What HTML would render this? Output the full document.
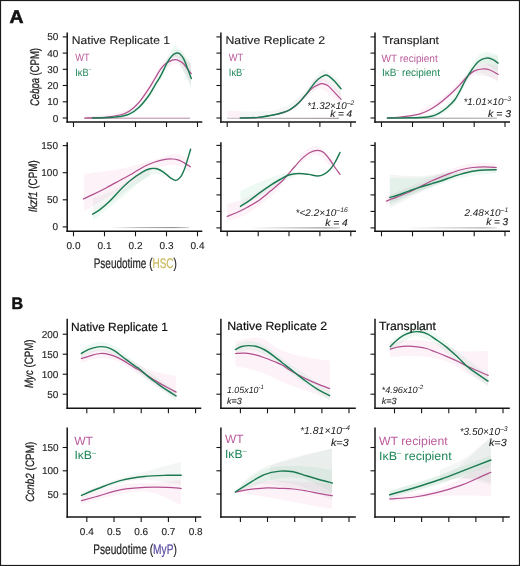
<!DOCTYPE html>
<html><head><meta charset="utf-8"><style>
html,body{margin:0;padding:0;background:#fff;width:520px;height:566px;overflow:hidden;}
body{position:relative;font-family:"Liberation Sans", sans-serif;}
</style></head><body>
<svg width="520" height="566" viewBox="0 0 520 566" style="position:absolute;left:0;top:0;font-family:'Liberation Sans', sans-serif;text-rendering:geometricPrecision;will-change:transform">
<rect x="0" y="0" width="520" height="566" fill="#ffffff"/>
<text x="9.60" y="22.80" text-anchor="start" fill="#111" style="font-size:18.6px;font-weight:bold;" textLength="14.00" lengthAdjust="spacingAndGlyphs" stroke="#111" stroke-width="0.6">A</text>
<text x="11.60" y="308.90" text-anchor="start" fill="#111" style="font-size:16.6px;font-weight:bold;" textLength="11.60" lengthAdjust="spacingAndGlyphs" stroke="#111" stroke-width="0.5">B</text>
<path d="M85.00,117.00 C92.33,115.67 118.42,114.17 129.00,109.00 C139.58,103.83 143.20,93.33 148.50,86.00 C153.80,78.67 156.88,70.17 160.80,65.00 C164.72,59.83 168.80,56.50 172.00,55.00 C175.20,53.50 176.83,54.50 180.00,56.00 C183.17,57.50 189.17,62.67 191.00,64.00 L191.00,84.00 C189.17,81.00 183.17,69.17 180.00,66.00 C176.83,62.83 175.20,64.00 172.00,65.00 C168.80,66.00 164.72,67.50 160.80,72.00 C156.88,76.50 153.80,85.17 148.50,92.00 C143.20,98.83 139.58,108.50 129.00,113.00 C118.42,117.50 92.33,118.00 85.00,119.00 Z" fill="rgba(236,160,205,0.14)" stroke="none"/>
<path d="M92.00,117.00 C98.17,116.17 119.58,116.00 129.00,112.00 C138.42,108.00 143.20,99.83 148.50,93.00 C153.80,86.17 156.88,78.33 160.80,71.00 C164.72,63.67 169.30,53.00 172.00,49.00 C174.70,45.00 173.83,44.50 177.00,47.00 C180.17,49.50 188.67,61.17 191.00,64.00 L191.00,88.00 C188.67,83.17 180.17,63.67 177.00,59.00 C173.83,54.33 174.70,56.50 172.00,60.00 C169.30,63.50 164.72,73.50 160.80,80.00 C156.88,86.50 153.80,93.00 148.50,99.00 C143.20,105.00 138.42,112.67 129.00,116.00 C119.58,119.33 98.17,118.50 92.00,119.00 Z" fill="rgba(150,220,180,0.16)" stroke="none"/>
<path d="M172.00,52.00 C173.33,51.67 176.83,48.00 180.00,50.00 C183.17,52.00 189.17,61.67 191.00,64.00 L191.00,86.00 C189.17,81.67 183.17,64.67 180.00,60.00 C176.83,55.33 173.33,58.33 172.00,58.00 Z" fill="rgba(150,165,155,0.10)" stroke="none"/>
<defs><linearGradient id="g1" x1="0" y1="0" x2="1" y2="0"><stop offset="0" stop-color="#b07aa0" stop-opacity="0.9"/><stop offset="1" stop-color="#b07aa0" stop-opacity="0.9"/></linearGradient></defs>
<rect x="84.00" y="117.70" width="106.00" height="1.00" fill="url(#g1)"/>
<path d="M85.00,118.00 C88.33,117.88 99.17,117.80 105.00,117.30 C110.83,116.80 115.97,116.00 120.00,115.00 C124.03,114.00 126.07,113.35 129.20,111.30 C132.33,109.25 135.58,106.38 138.80,102.70 C142.02,99.02 145.80,93.23 148.50,89.20 C151.20,85.17 152.95,81.90 155.00,78.50 C157.05,75.10 158.88,71.37 160.80,68.80 C162.72,66.23 164.58,64.53 166.50,63.10 C168.42,61.67 170.77,60.77 172.30,60.20 C173.83,59.63 174.42,59.53 175.70,59.70 C176.98,59.87 178.65,60.48 180.00,61.20 C181.35,61.92 182.52,62.65 183.80,64.00 C185.08,65.35 186.45,67.68 187.70,69.30 C188.95,70.92 190.70,72.97 191.30,73.70" fill="none" stroke="#b2508f" stroke-width="1.25" stroke-linecap="round" stroke-linejoin="round"/>
<path d="M92.50,118.00 C95.42,117.92 105.42,117.75 110.00,117.50 C114.58,117.25 116.80,117.05 120.00,116.50 C123.20,115.95 126.07,115.70 129.20,114.20 C132.33,112.70 135.58,110.53 138.80,107.50 C142.02,104.47 145.80,99.72 148.50,96.00 C151.20,92.28 152.95,88.60 155.00,85.20 C157.05,81.80 158.72,79.45 160.80,75.60 C162.88,71.75 165.58,65.47 167.50,62.10 C169.42,58.73 170.78,56.92 172.30,55.40 C173.82,53.88 175.32,53.23 176.60,53.00 C177.88,52.77 178.80,52.97 180.00,54.00 C181.20,55.03 182.52,56.73 183.80,59.20 C185.08,61.67 186.45,65.58 187.70,68.80 C188.95,72.02 190.70,76.88 191.30,78.50" fill="none" stroke="#1c7a52" stroke-width="1.45" stroke-linecap="round" stroke-linejoin="round"/>
<polygon points="227.3,110.9 240.3,110.9 240.3,118.1 227.3,118.1" fill="rgba(236,160,205,0.14)"/>
<path d="M240.30,111.60 C243.25,111.58 252.05,111.77 258.00,111.50 C263.95,111.23 270.67,111.25 276.00,110.00 C281.33,108.75 285.03,107.33 290.00,104.00 C294.97,100.67 301.07,95.00 305.80,90.00 C310.53,85.00 315.23,77.33 318.40,74.00 C321.57,70.67 321.03,68.67 324.80,70.00 C328.57,71.33 338.30,80.00 341.00,82.00 L341.00,96.00 C338.30,93.50 328.57,82.67 324.80,81.00 C321.03,79.33 321.57,83.17 318.40,86.00 C315.23,88.83 310.53,93.67 305.80,98.00 C301.07,102.33 294.97,109.00 290.00,112.00 C285.03,115.00 281.33,115.00 276.00,116.00 C270.67,117.00 263.95,117.58 258.00,118.00 C252.05,118.42 243.25,118.42 240.30,118.50 Z" fill="rgba(150,165,155,0.10)" stroke="none"/>
<path d="M312.00,82.00 C313.67,81.33 317.17,76.17 322.00,78.00 C326.83,79.83 337.83,90.50 341.00,93.00 L341.00,104.00 C337.83,101.50 326.83,91.00 322.00,89.00 C317.17,87.00 313.67,91.50 312.00,92.00 Z" fill="rgba(236,160,205,0.14)" stroke="none"/>
<defs><linearGradient id="g2" x1="0" y1="0" x2="1" y2="0"><stop offset="0" stop-color="#8a7a84" stop-opacity="0.5"/><stop offset="0.5" stop-color="#8a7a84" stop-opacity="0.8"/><stop offset="1" stop-color="#8a7a84" stop-opacity="0.9"/></linearGradient></defs>
<rect x="227.00" y="117.80" width="112.00" height="1.00" fill="url(#g2)"/>
<path d="M240.30,118.00 C243.30,117.90 252.42,117.98 258.30,117.40 C264.18,116.82 271.15,115.42 275.60,114.50 C280.05,113.58 282.28,112.92 285.00,111.90 C287.72,110.88 289.60,109.93 291.90,108.40 C294.20,106.87 296.48,104.93 298.80,102.70 C301.12,100.47 303.48,97.50 305.80,95.00 C308.12,92.50 310.40,89.50 312.70,87.70 C315.00,85.90 317.97,84.88 319.60,84.20 C321.23,83.52 321.15,83.40 322.50,83.60 C323.85,83.80 325.88,84.15 327.70,85.40 C329.52,86.65 331.18,88.80 333.40,91.10 C335.62,93.40 339.73,97.85 341.00,99.20" fill="none" stroke="#b2508f" stroke-width="1.25" stroke-linecap="round" stroke-linejoin="round"/>
<path d="M240.30,118.00 C243.30,117.90 252.42,117.98 258.30,117.40 C264.18,116.82 271.15,115.42 275.60,114.50 C280.05,113.58 282.28,112.92 285.00,111.90 C287.72,110.88 289.60,109.93 291.90,108.40 C294.20,106.87 296.48,105.00 298.80,102.70 C301.12,100.40 303.48,97.48 305.80,94.60 C308.12,91.72 310.60,88.00 312.70,85.40 C314.80,82.80 316.38,80.70 318.40,79.00 C320.42,77.30 323.07,75.68 324.80,75.20 C326.53,74.72 327.17,75.08 328.80,76.10 C330.43,77.12 332.57,79.18 334.60,81.30 C336.63,83.42 339.93,87.55 341.00,88.80" fill="none" stroke="#1c7a52" stroke-width="1.45" stroke-linecap="round" stroke-linejoin="round"/>
<path d="M387.00,117.00 C392.50,116.83 411.33,117.17 420.00,116.00 C428.67,114.83 433.33,113.33 439.00,110.00 C444.67,106.67 449.50,102.00 454.00,96.00 C458.50,90.00 462.00,80.67 466.00,74.00 C470.00,67.33 474.67,59.67 478.00,56.00 C481.33,52.33 482.67,52.17 486.00,52.00 C489.33,51.83 496.00,54.50 498.00,55.00 L498.00,72.00 C496.00,70.67 489.33,65.00 486.00,64.00 C482.67,63.00 481.33,62.83 478.00,66.00 C474.67,69.17 470.00,76.67 466.00,83.00 C462.00,89.33 458.50,98.50 454.00,104.00 C449.50,109.50 444.67,113.50 439.00,116.00 C433.33,118.50 428.67,118.50 420.00,119.00 C411.33,119.50 392.50,119.00 387.00,119.00 Z" fill="rgba(150,220,180,0.16)" stroke="none"/>
<path d="M420.00,110.00 C423.83,107.83 436.33,101.83 443.00,97.00 C449.67,92.17 454.50,86.00 460.00,81.00 C465.50,76.00 471.67,69.83 476.00,67.00 C480.33,64.17 482.33,64.17 486.00,64.00 C489.67,63.83 496.00,65.67 498.00,66.00 L498.00,82.00 C496.00,80.83 489.67,76.33 486.00,75.00 C482.33,73.67 480.33,71.83 476.00,74.00 C471.67,76.17 465.50,83.17 460.00,88.00 C454.50,92.83 449.67,98.33 443.00,103.00 C436.33,107.67 423.83,113.83 420.00,116.00 Z" fill="rgba(236,160,205,0.14)" stroke="none"/>
<path d="M476.00,62.00 C477.67,61.00 482.33,57.00 486.00,56.00 C489.67,55.00 496.00,56.00 498.00,56.00 L498.00,80.00 C496.00,79.33 489.67,76.67 486.00,76.00 C482.33,75.33 477.67,76.00 476.00,76.00 Z" fill="rgba(150,165,155,0.10)" stroke="none"/>
<defs><linearGradient id="g3" x1="0" y1="0" x2="1" y2="0"><stop offset="0" stop-color="#808080" stop-opacity="0.6"/><stop offset="0.6" stop-color="#808080" stop-opacity="0.8"/><stop offset="1" stop-color="#808080" stop-opacity="0.7"/></linearGradient></defs>
<rect x="388.00" y="117.70" width="109.00" height="1.00" fill="url(#g3)"/>
<path d="M387.40,118.00 C389.50,117.83 396.23,117.37 400.00,117.00 C403.77,116.63 406.67,116.33 410.00,115.80 C413.33,115.27 417.05,114.63 420.00,113.80 C422.95,112.97 425.13,112.07 427.70,110.80 C430.27,109.53 432.83,107.93 435.40,106.20 C437.97,104.47 440.53,102.47 443.10,100.40 C445.67,98.33 447.98,96.43 450.80,93.80 C453.62,91.17 457.01,87.73 460.00,84.60 C462.99,81.47 466.25,77.33 468.75,75.00 C471.25,72.67 472.71,71.60 475.00,70.60 C477.29,69.60 480.00,69.10 482.50,69.00 C485.00,68.90 487.40,69.10 490.00,70.00 C492.60,70.90 496.75,73.67 498.10,74.40" fill="none" stroke="#b2508f" stroke-width="1.25" stroke-linecap="round" stroke-linejoin="round"/>
<path d="M387.40,118.00 C391.17,117.97 404.57,117.88 410.00,117.80 C415.43,117.72 416.42,117.77 420.00,117.50 C423.58,117.23 428.30,116.93 431.50,116.20 C434.70,115.47 436.63,114.52 439.20,113.10 C441.77,111.68 444.33,109.88 446.90,107.70 C449.47,105.52 452.42,102.82 454.60,100.00 C456.78,97.18 458.06,94.34 460.00,90.80 C461.94,87.26 464.17,82.42 466.25,78.75 C468.33,75.08 470.42,71.67 472.50,68.75 C474.58,65.83 476.46,63.02 478.75,61.25 C481.04,59.48 483.96,58.41 486.25,58.10 C488.54,57.79 490.52,58.57 492.50,59.40 C494.48,60.23 497.17,62.48 498.10,63.10" fill="none" stroke="#1c7a52" stroke-width="1.45" stroke-linecap="round" stroke-linejoin="round"/>
<path d="M84.00,174.00 C90.00,173.17 109.00,171.17 120.00,169.00 C131.00,166.83 140.83,163.50 150.00,161.00 C159.17,158.50 168.33,154.17 175.00,154.00 C181.67,153.83 187.50,159.00 190.00,160.00 L190.00,172.00 C187.50,170.83 181.67,165.33 175.00,165.00 C168.33,164.67 157.50,167.00 150.00,170.00 C142.50,173.00 136.67,178.67 130.00,183.00 C123.33,187.33 116.17,192.17 110.00,196.00 C103.83,199.83 97.33,203.50 93.00,206.00 C88.67,208.50 85.50,210.17 84.00,211.00 Z" fill="rgba(236,160,205,0.14)" stroke="none"/>
<path d="M93.00,198.00 C95.83,197.00 103.83,195.00 110.00,192.00 C116.17,189.00 123.33,183.67 130.00,180.00 C136.67,176.33 146.67,171.67 150.00,170.00 L150.00,176.00 C146.67,178.00 136.67,183.50 130.00,188.00 C123.33,192.50 116.17,199.33 110.00,203.00 C103.83,206.67 95.83,208.83 93.00,210.00 Z" fill="rgba(150,165,155,0.10)" stroke="none"/>
<path d="M93.00,211.00 C97.50,207.83 110.50,199.17 120.00,192.00 C129.50,184.83 142.50,171.67 150.00,168.00 C157.50,164.33 162.50,169.67 165.00,170.00 L165.00,177.00 C162.50,176.67 157.50,171.33 150.00,175.00 C142.50,178.67 129.50,191.50 120.00,199.00 C110.50,206.50 97.50,216.50 93.00,220.00 Z" fill="rgba(150,220,180,0.16)" stroke="none"/>
<defs><linearGradient id="g4" x1="0" y1="0" x2="1" y2="0"><stop offset="0" stop-color="#606060" stop-opacity="0.0"/><stop offset="0.4" stop-color="#606060" stop-opacity="0.5"/><stop offset="0.8" stop-color="#606060" stop-opacity="0.75"/><stop offset="1" stop-color="#606060" stop-opacity="0.3"/></linearGradient></defs>
<rect x="110.00" y="227.10" width="79.00" height="1.00" fill="url(#g4)"/>
<path d="M83.30,199.00 C84.95,198.23 89.33,196.28 93.20,194.40 C97.07,192.52 102.08,190.02 106.50,187.70 C110.92,185.38 115.28,182.92 119.70,180.50 C124.12,178.08 128.92,175.53 133.00,173.20 C137.08,170.87 140.78,168.28 144.20,166.50 C147.62,164.72 150.42,163.62 153.50,162.50 C156.58,161.38 159.63,160.38 162.70,159.80 C165.77,159.22 169.22,158.93 171.90,159.00 C174.58,159.07 176.68,159.52 178.80,160.20 C180.92,160.88 182.67,162.00 184.60,163.10 C186.53,164.20 189.43,166.18 190.40,166.80" fill="none" stroke="#b2508f" stroke-width="1.25" stroke-linecap="round" stroke-linejoin="round"/>
<path d="M92.60,214.20 C93.82,213.43 97.15,211.68 99.90,209.60 C102.65,207.52 105.80,204.90 109.10,201.70 C112.40,198.50 116.17,193.93 119.70,190.40 C123.23,186.87 126.60,183.52 130.30,180.50 C134.00,177.48 138.62,174.25 141.90,172.30 C145.18,170.35 147.50,169.38 150.00,168.80 C152.50,168.22 154.60,168.22 156.90,168.80 C159.20,169.38 161.48,170.75 163.80,172.30 C166.12,173.85 168.77,176.75 170.80,178.10 C172.83,179.45 174.37,180.60 176.00,180.40 C177.63,180.20 179.17,178.83 180.60,176.90 C182.03,174.97 183.45,171.68 184.60,168.80 C185.75,165.92 186.50,162.87 187.50,159.60 C188.50,156.33 190.08,150.93 190.60,149.20" fill="none" stroke="#1c7a52" stroke-width="1.45" stroke-linecap="round" stroke-linejoin="round"/>
<path d="M227.20,203.80 C230.50,202.83 239.87,201.30 247.00,198.00 C254.13,194.70 264.17,187.50 270.00,184.00 C275.83,180.50 280.00,178.17 282.00,177.00 L282.00,185.00 C280.00,187.00 275.83,192.17 270.00,197.00 C264.17,201.83 254.13,210.00 247.00,214.00 C239.87,218.00 230.50,219.83 227.20,221.00 Z" fill="rgba(236,160,205,0.14)" stroke="none"/>
<path d="M240.50,191.00 C243.75,189.50 253.08,184.83 260.00,182.00 C266.92,179.17 276.17,175.83 282.00,174.00 C287.83,172.17 292.83,171.50 295.00,171.00 L295.00,177.00 C292.83,177.83 287.83,178.83 282.00,182.00 C276.17,185.17 266.92,191.67 260.00,196.00 C253.08,200.33 243.75,206.00 240.50,208.00 Z" fill="rgba(150,220,180,0.16)" stroke="none"/>
<path d="M300.00,154.00 C302.92,152.67 311.67,144.67 317.50,146.00 C323.33,147.33 332.08,159.33 335.00,162.00 L335.00,172.00 C332.08,169.17 323.33,156.33 317.50,155.00 C311.67,153.67 302.92,162.50 300.00,164.00 Z" fill="rgba(236,160,205,0.14)" stroke="none"/>
<defs><linearGradient id="g5" x1="0" y1="0" x2="1" y2="0"><stop offset="0" stop-color="#606060" stop-opacity="0.0"/><stop offset="0.5" stop-color="#606060" stop-opacity="0.5"/><stop offset="0.85" stop-color="#606060" stop-opacity="0.8"/><stop offset="1" stop-color="#606060" stop-opacity="0.4"/></linearGradient></defs>
<rect x="250.00" y="227.40" width="90.00" height="1.00" fill="url(#g5)"/>
<path d="M227.20,216.50 C228.83,215.83 233.63,214.03 237.00,212.50 C240.37,210.97 243.75,209.32 247.40,207.30 C251.05,205.28 255.07,203.10 258.90,200.40 C262.73,197.70 266.55,194.28 270.40,191.10 C274.25,187.92 279.15,183.98 282.00,181.30 C284.85,178.62 285.33,177.51 287.50,175.00 C289.67,172.49 292.50,169.07 295.00,166.25 C297.50,163.43 300.00,160.39 302.50,158.10 C305.00,155.81 307.50,153.81 310.00,152.50 C312.50,151.19 315.21,150.25 317.50,150.25 C319.79,150.25 321.67,150.88 323.75,152.50 C325.83,154.12 328.12,157.50 330.00,160.00 C331.88,162.50 333.33,165.10 335.00,167.50 C336.67,169.90 339.17,173.25 340.00,174.40" fill="none" stroke="#b2508f" stroke-width="1.25" stroke-linecap="round" stroke-linejoin="round"/>
<path d="M240.50,206.40 C242.03,205.40 246.63,202.57 249.70,200.40 C252.77,198.23 255.45,195.90 258.90,193.40 C262.35,190.90 266.88,187.72 270.40,185.40 C273.92,183.08 276.94,181.23 280.00,179.50 C283.06,177.77 285.62,176.00 288.75,175.00 C291.88,174.00 295.42,173.60 298.75,173.50 C302.08,173.40 305.62,173.98 308.75,174.40 C311.88,174.82 315.00,176.00 317.50,176.00 C320.00,176.00 321.67,175.50 323.75,174.40 C325.83,173.30 328.12,171.38 330.00,169.40 C331.88,167.42 333.33,165.32 335.00,162.50 C336.67,159.68 339.17,154.17 340.00,152.50" fill="none" stroke="#1c7a52" stroke-width="1.45" stroke-linecap="round" stroke-linejoin="round"/>
<path d="M389.80,174.40 C394.83,174.67 408.63,176.57 420.00,176.00 C431.37,175.43 451.67,171.83 458.00,171.00 L458.00,176.00 C451.67,178.83 431.37,187.60 420.00,193.00 C408.63,198.40 394.83,205.83 389.80,208.40 Z" fill="rgba(150,165,155,0.10)" stroke="none"/>
<path d="M389.80,178.00 C394.83,178.00 409.97,179.00 420.00,178.00 C430.03,177.00 445.00,173.00 450.00,172.00 L450.00,178.00 C445.00,180.17 430.03,186.33 420.00,191.00 C409.97,195.67 394.83,203.50 389.80,206.00 Z" fill="rgba(150,220,180,0.16)" stroke="none"/>
<path d="M386.00,197.00 C391.67,194.50 407.67,187.17 420.00,182.00 C432.33,176.83 449.17,169.17 460.00,166.00 C470.83,162.83 479.00,163.33 485.00,163.00 C491.00,162.67 494.17,163.83 496.00,164.00 L496.00,172.00 C494.17,171.83 491.00,170.67 485.00,171.00 C479.00,171.33 470.83,170.67 460.00,174.00 C449.17,177.33 432.33,185.83 420.00,191.00 C407.67,196.17 391.67,202.67 386.00,205.00 Z" fill="rgba(236,160,205,0.14)" stroke="none"/>
<path d="M390.00,195.00 C395.00,193.17 408.33,188.00 420.00,184.00 C431.67,180.00 447.33,174.00 460.00,171.00 C472.67,168.00 490.00,166.83 496.00,166.00 L496.00,173.00 C490.00,173.83 472.67,175.00 460.00,178.00 C447.33,181.00 431.67,186.83 420.00,191.00 C408.33,195.17 395.00,201.00 390.00,203.00 Z" fill="rgba(150,220,180,0.16)" stroke="none"/>
<defs><linearGradient id="g6" x1="0" y1="0" x2="1" y2="0"><stop offset="0" stop-color="#707070" stop-opacity="0.0"/><stop offset="0.5" stop-color="#707070" stop-opacity="0.4"/><stop offset="0.85" stop-color="#707070" stop-opacity="0.7"/><stop offset="1" stop-color="#707070" stop-opacity="0.3"/></linearGradient></defs>
<rect x="405.00" y="227.40" width="92.00" height="1.00" fill="url(#g6)"/>
<path d="M386.30,201.00 C388.13,200.32 393.55,198.35 397.30,196.90 C401.05,195.45 404.95,194.03 408.80,192.30 C412.65,190.57 416.55,188.42 420.40,186.50 C424.25,184.58 428.63,182.33 431.90,180.80 C435.17,179.27 437.40,178.37 440.00,177.30 C442.60,176.23 444.17,175.62 447.50,174.40 C450.83,173.18 455.83,171.15 460.00,170.00 C464.17,168.85 468.33,168.02 472.50,167.50 C476.67,166.98 481.04,166.90 485.00,166.90 C488.96,166.90 494.38,167.40 496.25,167.50" fill="none" stroke="#b2508f" stroke-width="1.25" stroke-linecap="round" stroke-linejoin="round"/>
<path d="M389.80,197.50 C391.05,197.12 394.13,196.27 397.30,195.20 C400.47,194.13 404.95,192.45 408.80,191.10 C412.65,189.75 416.55,188.35 420.40,187.10 C424.25,185.85 428.63,184.57 431.90,183.60 C435.17,182.63 437.40,182.15 440.00,181.30 C442.60,180.45 444.17,179.65 447.50,178.50 C450.83,177.35 455.83,175.61 460.00,174.40 C464.17,173.19 468.33,171.98 472.50,171.25 C476.67,170.52 481.04,170.25 485.00,170.00 C488.96,169.75 494.38,169.79 496.25,169.75" fill="none" stroke="#1c7a52" stroke-width="1.45" stroke-linecap="round" stroke-linejoin="round"/>
<path d="M81.00,349.00 C83.83,347.83 92.50,342.50 98.00,342.00 C103.50,341.50 107.83,342.67 114.00,346.00 C120.17,349.33 124.67,354.50 135.00,362.00 C145.33,369.50 169.17,386.17 176.00,391.00 L176.00,401.00 C169.17,395.83 145.33,377.67 135.00,370.00 C124.67,362.33 120.17,358.17 114.00,355.00 C107.83,351.83 103.50,350.50 98.00,351.00 C92.50,351.50 83.83,356.83 81.00,358.00 Z" fill="rgba(150,220,180,0.16)" stroke="none"/>
<path d="M81.00,354.00 C84.17,353.17 93.67,349.00 100.00,349.00 C106.33,349.00 110.67,350.50 119.00,354.00 C127.33,357.50 140.50,366.33 150.00,370.00 C159.50,373.67 171.67,375.00 176.00,376.00 L176.00,398.00 C171.67,395.33 159.50,388.00 150.00,382.00 C140.50,376.00 127.33,366.00 119.00,362.00 C110.67,358.00 106.33,357.83 100.00,358.00 C93.67,358.17 84.17,362.17 81.00,363.00 Z" fill="rgba(236,160,205,0.14)" stroke="none"/>
<path d="M81.30,358.60 C82.75,358.13 86.82,356.65 90.00,355.80 C93.18,354.95 97.13,353.70 100.40,353.50 C103.67,353.30 106.53,353.83 109.60,354.60 C112.67,355.37 115.92,356.75 118.80,358.10 C121.68,359.45 124.20,361.07 126.90,362.70 C129.60,364.33 132.95,366.68 135.00,367.90 C137.05,369.12 136.95,368.60 139.20,370.00 C141.45,371.40 145.42,374.28 148.50,376.30 C151.58,378.32 154.63,380.27 157.70,382.10 C160.77,383.93 163.83,385.63 166.90,387.30 C169.97,388.97 174.57,391.30 176.10,392.10" fill="none" stroke="#b2508f" stroke-width="1.25" stroke-linecap="round" stroke-linejoin="round"/>
<path d="M81.30,353.50 C82.55,352.82 86.00,350.50 88.80,349.40 C91.60,348.30 95.22,347.28 98.10,346.90 C100.98,346.52 103.42,346.48 106.10,347.10 C108.78,347.72 111.32,348.87 114.20,350.60 C117.08,352.33 119.93,354.92 123.40,357.50 C126.87,360.08 132.37,364.22 135.00,366.10 C137.63,367.98 136.95,367.00 139.20,368.80 C141.45,370.60 145.42,374.40 148.50,376.90 C151.58,379.40 154.63,381.58 157.70,383.80 C160.77,386.02 163.83,388.18 166.90,390.20 C169.97,392.22 174.57,394.95 176.10,395.90" fill="none" stroke="#1c7a52" stroke-width="1.45" stroke-linecap="round" stroke-linejoin="round"/>
<path d="M235.50,341.00 C239.58,340.50 252.58,336.57 260.00,338.00 C267.42,339.43 273.33,346.60 280.00,349.60 C286.67,352.60 291.67,354.10 300.00,356.00 C308.33,357.90 325.00,360.17 330.00,361.00 L330.00,399.00 C323.33,396.67 301.67,389.50 290.00,385.00 C278.33,380.50 269.08,375.17 260.00,372.00 C250.92,368.83 239.58,367.00 235.50,366.00 Z" fill="rgba(236,160,205,0.14)" stroke="none"/>
<path d="M235.50,345.00 C237.75,344.33 244.08,340.83 249.00,341.00 C253.92,341.17 258.17,342.17 265.00,346.00 C271.83,349.83 279.17,356.50 290.00,364.00 C300.83,371.50 323.33,386.50 330.00,391.00 L330.00,401.00 C323.33,396.33 300.83,380.67 290.00,373.00 C279.17,365.33 271.83,358.83 265.00,355.00 C258.17,351.17 253.92,350.17 249.00,350.00 C244.08,349.83 237.75,353.33 235.50,354.00 Z" fill="rgba(150,220,180,0.16)" stroke="none"/>
<path d="M235.50,353.50 C237.13,353.45 242.13,353.02 245.30,353.20 C248.47,353.38 251.42,353.88 254.50,354.60 C257.58,355.32 260.53,356.35 263.80,357.50 C267.07,358.65 271.03,360.25 274.10,361.50 C277.17,362.75 279.68,363.62 282.20,365.00 C284.72,366.38 286.48,368.13 289.20,369.80 C291.92,371.47 295.42,373.37 298.50,375.00 C301.58,376.63 304.63,378.17 307.70,379.60 C310.77,381.03 313.25,382.10 316.90,383.60 C320.55,385.10 327.48,387.77 329.60,388.60" fill="none" stroke="#b2508f" stroke-width="1.25" stroke-linecap="round" stroke-linejoin="round"/>
<path d="M235.50,349.40 C236.55,348.92 239.58,347.13 241.80,346.50 C244.02,345.87 246.30,345.60 248.80,345.60 C251.30,345.60 254.12,345.77 256.80,346.50 C259.48,347.23 262.02,348.37 264.90,350.00 C267.78,351.63 271.22,354.18 274.10,356.30 C276.98,358.42 279.68,360.73 282.20,362.70 C284.72,364.67 286.48,365.95 289.20,368.10 C291.92,370.25 295.42,373.20 298.50,375.60 C301.58,378.00 304.63,380.30 307.70,382.50 C310.77,384.70 313.25,386.60 316.90,388.80 C320.55,391.00 327.48,394.55 329.60,395.70" fill="none" stroke="#1c7a52" stroke-width="1.45" stroke-linecap="round" stroke-linejoin="round"/>
<path d="M390.00,342.00 C393.58,339.50 406.50,329.67 411.50,327.00 C416.50,324.33 415.92,324.83 420.00,326.00 C424.08,327.17 429.67,329.67 436.00,334.00 C442.33,338.33 449.33,345.17 458.00,352.00 C466.67,358.83 483.00,371.17 488.00,375.00 L488.00,387.00 C483.00,383.00 466.67,370.17 458.00,363.00 C449.33,355.83 442.33,348.33 436.00,344.00 C429.67,339.67 424.08,338.17 420.00,337.00 C415.92,335.83 416.50,334.67 411.50,337.00 C406.50,339.33 393.58,348.67 390.00,351.00 Z" fill="rgba(150,220,180,0.16)" stroke="none"/>
<path d="M390.00,342.00 C394.50,341.67 407.83,339.50 417.00,340.00 C426.17,340.50 437.83,343.17 445.00,345.00 C452.17,346.83 452.83,350.00 460.00,351.00 C467.17,352.00 483.33,351.00 488.00,351.00 L488.00,385.00 C485.00,383.33 477.17,379.00 470.00,375.00 C462.83,371.00 453.83,364.17 445.00,361.00 C436.17,357.83 426.17,356.67 417.00,356.00 C407.83,355.33 394.50,356.83 390.00,357.00 Z" fill="rgba(236,160,205,0.14)" stroke="none"/>
<path d="M390.20,349.10 C391.63,348.72 395.82,347.28 398.80,346.80 C401.78,346.32 405.02,346.20 408.10,346.20 C411.18,346.20 414.23,346.42 417.30,346.80 C420.37,347.18 423.43,347.63 426.50,348.50 C429.57,349.37 432.37,350.70 435.70,352.00 C439.03,353.30 442.77,354.72 446.50,356.30 C450.23,357.88 454.25,359.67 458.10,361.50 C461.95,363.33 464.60,364.98 469.60,367.30 C474.60,369.62 485.02,374.05 488.10,375.40" fill="none" stroke="#b2508f" stroke-width="1.25" stroke-linecap="round" stroke-linejoin="round"/>
<path d="M390.20,346.80 C391.25,345.75 394.28,342.42 396.50,340.50 C398.72,338.58 401.00,336.68 403.50,335.30 C406.00,333.92 408.82,332.78 411.50,332.20 C414.18,331.62 416.90,331.48 419.60,331.80 C422.30,332.12 425.02,332.85 427.70,334.10 C430.38,335.35 432.57,337.13 435.70,339.30 C438.83,341.47 442.77,344.07 446.50,347.10 C450.23,350.13 454.25,353.95 458.10,357.50 C461.95,361.05 464.60,364.47 469.60,368.40 C474.60,372.33 485.02,378.98 488.10,381.10" fill="none" stroke="#1c7a52" stroke-width="1.45" stroke-linecap="round" stroke-linejoin="round"/>
<path d="M81.50,492.00 C88.08,489.67 110.58,481.33 121.00,478.00 C131.42,474.67 136.67,474.00 144.00,472.00 C151.33,470.00 158.83,467.67 165.00,466.00 C171.17,464.33 178.33,462.67 181.00,462.00 L181.00,485.00 C178.33,484.50 171.17,482.83 165.00,482.00 C158.83,481.17 151.33,479.83 144.00,480.00 C136.67,480.17 131.42,480.00 121.00,483.00 C110.58,486.00 88.08,495.50 81.50,498.00 Z" fill="rgba(150,165,155,0.10)" stroke="none"/>
<path d="M81.50,497.00 C88.08,495.00 109.58,487.33 121.00,485.00 C132.42,482.67 140.00,483.83 150.00,483.00 C160.00,482.17 175.83,480.50 181.00,480.00 L181.00,505.00 C175.83,502.83 160.00,493.83 150.00,492.00 C140.00,490.17 132.42,492.00 121.00,494.00 C109.58,496.00 88.08,502.33 81.50,504.00 Z" fill="rgba(236,160,205,0.14)" stroke="none"/>
<path d="M81.50,500.70 C84.27,499.93 91.48,497.95 98.10,496.10 C104.72,494.25 113.50,491.07 121.20,489.60 C128.90,488.13 136.60,487.68 144.30,487.30 C152.00,486.92 161.25,487.10 167.40,487.30 C173.55,487.50 178.90,488.30 181.20,488.50" fill="none" stroke="#b2508f" stroke-width="1.25" stroke-linecap="round" stroke-linejoin="round"/>
<path d="M81.50,495.40 C84.27,494.25 91.48,491.00 98.10,488.50 C104.72,486.00 113.50,482.40 121.20,480.40 C128.90,478.40 136.60,477.35 144.30,476.50 C152.00,475.65 161.25,475.50 167.40,475.30 C173.55,475.10 178.90,475.30 181.20,475.30" fill="none" stroke="#1c7a52" stroke-width="1.45" stroke-linecap="round" stroke-linejoin="round"/>
<path d="M235.40,492.00 C237.83,489.33 244.23,480.50 250.00,476.00 C255.77,471.50 261.67,468.33 270.00,465.00 C278.33,461.67 289.67,458.73 300.00,456.00 C310.33,453.27 326.67,449.83 332.00,448.60 L332.00,494.00 C326.67,493.17 312.00,490.67 300.00,489.00 C288.00,487.33 270.77,483.50 260.00,484.00 C249.23,484.50 239.50,490.67 235.40,492.00 Z" fill="rgba(150,165,155,0.10)" stroke="none"/>
<path d="M235.40,492.00 C237.83,489.67 244.23,482.00 250.00,478.00 C255.77,474.00 261.67,470.00 270.00,468.00 C278.33,466.00 289.67,465.67 300.00,466.00 C310.33,466.33 326.67,469.33 332.00,470.00 L332.00,492.00 C326.67,489.67 310.33,480.00 300.00,478.00 C289.67,476.00 278.33,478.33 270.00,480.00 C261.67,481.67 255.77,486.00 250.00,488.00 C244.23,490.00 237.83,491.33 235.40,492.00 Z" fill="rgba(150,220,180,0.16)" stroke="none"/>
<path d="M235.40,492.00 C240.50,490.17 249.90,482.33 266.00,481.00 C282.10,479.67 321.00,483.50 332.00,484.00 L332.00,509.00 C321.00,507.00 282.10,499.83 266.00,497.00 C249.90,494.17 240.50,492.83 235.40,492.00 Z" fill="rgba(236,160,205,0.14)" stroke="none"/>
<path d="M270.00,466.00 C275.00,464.50 289.67,459.90 300.00,457.00 C310.33,454.10 326.67,450.00 332.00,448.60 L332.00,500.00 C326.67,497.67 310.33,489.33 300.00,486.00 C289.67,482.67 275.00,481.00 270.00,480.00 Z" fill="rgba(150,165,155,0.10)" stroke="none"/>
<path d="M235.40,492.00 C237.52,491.62 242.90,490.40 248.10,489.70 C253.30,489.00 261.28,488.03 266.60,487.80 C271.92,487.57 275.57,488.10 280.00,488.30 C284.43,488.50 288.78,488.55 293.20,489.00 C297.62,489.45 302.08,490.23 306.50,491.00 C310.92,491.77 315.40,492.83 319.70,493.60 C324.00,494.37 330.20,495.27 332.30,495.60" fill="none" stroke="#b2508f" stroke-width="1.25" stroke-linecap="round" stroke-linejoin="round"/>
<path d="M235.40,492.00 C237.52,490.65 243.28,486.80 248.10,483.90 C252.92,481.00 258.98,476.73 264.30,474.60 C269.62,472.47 275.18,471.57 280.00,471.10 C284.82,470.63 288.78,471.02 293.20,471.80 C297.62,472.58 302.08,474.48 306.50,475.80 C310.92,477.12 315.40,478.50 319.70,479.70 C324.00,480.90 330.20,482.45 332.30,483.00" fill="none" stroke="#1c7a52" stroke-width="1.45" stroke-linecap="round" stroke-linejoin="round"/>
<path d="M389.70,491.00 C397.70,488.50 425.85,480.33 437.70,476.00 C449.55,471.67 451.93,471.50 460.80,465.00 C469.67,458.50 485.88,441.67 490.90,437.00 L490.90,485.00 C485.88,483.83 469.67,478.00 460.80,478.00 C451.93,478.00 449.55,481.67 437.70,485.00 C425.85,488.33 397.70,495.83 389.70,498.00 Z" fill="rgba(150,165,155,0.10)" stroke="none"/>
<path d="M389.70,491.00 C397.70,488.50 425.85,480.00 437.70,476.00 C449.55,472.00 451.93,470.50 460.80,467.00 C469.67,463.50 485.88,457.00 490.90,455.00 L490.90,466.00 C485.88,467.67 469.67,473.00 460.80,476.00 C451.93,479.00 449.55,480.33 437.70,484.00 C425.85,487.67 397.70,495.67 389.70,498.00 Z" fill="rgba(150,220,180,0.16)" stroke="none"/>
<path d="M389.70,496.00 C397.70,494.83 420.83,494.67 437.70,489.00 C454.57,483.33 482.03,466.50 490.90,462.00 L490.90,496.00 C482.03,496.00 454.57,495.00 437.70,496.00 C420.83,497.00 397.70,501.00 389.70,502.00 Z" fill="rgba(236,160,205,0.14)" stroke="none"/>
<path d="M440.00,470.00 C444.17,468.00 456.52,463.50 465.00,458.00 C473.48,452.50 486.58,440.50 490.90,437.00 L490.90,482.00 C486.58,481.33 473.48,478.00 465.00,478.00 C456.52,478.00 444.17,481.33 440.00,482.00 Z" fill="rgba(150,165,155,0.10)" stroke="none"/>
<path d="M389.70,498.80 C393.85,498.50 406.60,498.07 414.60,497.00 C422.60,495.93 430.00,494.33 437.70,492.40 C445.40,490.47 454.25,487.72 460.80,485.40 C467.35,483.08 471.98,480.68 477.00,478.50 C482.02,476.32 488.58,473.33 490.90,472.30" fill="none" stroke="#b2508f" stroke-width="1.25" stroke-linecap="round" stroke-linejoin="round"/>
<path d="M389.70,494.70 C393.85,493.53 406.60,490.10 414.60,487.70 C422.60,485.30 430.00,482.98 437.70,480.30 C445.40,477.62 451.93,474.98 460.80,471.60 C469.67,468.22 485.88,461.93 490.90,460.00" fill="none" stroke="#1c7a52" stroke-width="1.45" stroke-linecap="round" stroke-linejoin="round"/>
<line x1="67.20" y1="32.50" x2="67.20" y2="122.75" stroke="#141414" stroke-width="1.5"/>
<line x1="66.45" y1="122.00" x2="202.30" y2="122.00" stroke="#141414" stroke-width="1.5"/>
<line x1="62.70" y1="36.90" x2="67.20" y2="36.90" stroke="#141414" stroke-width="1.1"/>
<line x1="62.70" y1="53.10" x2="67.20" y2="53.10" stroke="#141414" stroke-width="1.1"/>
<line x1="62.70" y1="69.30" x2="67.20" y2="69.30" stroke="#141414" stroke-width="1.1"/>
<line x1="62.70" y1="85.50" x2="67.20" y2="85.50" stroke="#141414" stroke-width="1.1"/>
<line x1="62.70" y1="101.80" x2="67.20" y2="101.80" stroke="#141414" stroke-width="1.1"/>
<line x1="62.70" y1="118.00" x2="67.20" y2="118.00" stroke="#141414" stroke-width="1.1"/>
<line x1="73.50" y1="122.00" x2="73.50" y2="127.00" stroke="#141414" stroke-width="1.1"/>
<line x1="104.50" y1="122.00" x2="104.50" y2="127.00" stroke="#141414" stroke-width="1.1"/>
<line x1="135.50" y1="122.00" x2="135.50" y2="127.00" stroke="#141414" stroke-width="1.1"/>
<line x1="166.50" y1="122.00" x2="166.50" y2="127.00" stroke="#141414" stroke-width="1.1"/>
<line x1="197.50" y1="122.00" x2="197.50" y2="127.00" stroke="#141414" stroke-width="1.1"/>
<line x1="67.20" y1="142.20" x2="67.20" y2="232.05" stroke="#141414" stroke-width="1.5"/>
<line x1="66.45" y1="231.30" x2="202.30" y2="231.30" stroke="#141414" stroke-width="1.5"/>
<line x1="62.70" y1="145.60" x2="67.20" y2="145.60" stroke="#141414" stroke-width="1.1"/>
<line x1="62.70" y1="172.70" x2="67.20" y2="172.70" stroke="#141414" stroke-width="1.1"/>
<line x1="62.70" y1="199.80" x2="67.20" y2="199.80" stroke="#141414" stroke-width="1.1"/>
<line x1="62.70" y1="226.90" x2="67.20" y2="226.90" stroke="#141414" stroke-width="1.1"/>
<line x1="73.50" y1="231.30" x2="73.50" y2="236.30" stroke="#141414" stroke-width="1.1"/>
<line x1="104.50" y1="231.30" x2="104.50" y2="236.30" stroke="#141414" stroke-width="1.1"/>
<line x1="135.50" y1="231.30" x2="135.50" y2="236.30" stroke="#141414" stroke-width="1.1"/>
<line x1="166.50" y1="231.30" x2="166.50" y2="236.30" stroke="#141414" stroke-width="1.1"/>
<line x1="197.50" y1="231.30" x2="197.50" y2="236.30" stroke="#141414" stroke-width="1.1"/>
<line x1="67.20" y1="318.80" x2="67.20" y2="409.05" stroke="#141414" stroke-width="1.5"/>
<line x1="66.45" y1="408.30" x2="201.30" y2="408.30" stroke="#141414" stroke-width="1.5"/>
<line x1="62.70" y1="334.20" x2="67.20" y2="334.20" stroke="#141414" stroke-width="1.1"/>
<line x1="62.70" y1="354.20" x2="67.20" y2="354.20" stroke="#141414" stroke-width="1.1"/>
<line x1="62.70" y1="374.20" x2="67.20" y2="374.20" stroke="#141414" stroke-width="1.1"/>
<line x1="62.70" y1="394.20" x2="67.20" y2="394.20" stroke="#141414" stroke-width="1.1"/>
<line x1="86.80" y1="408.30" x2="86.80" y2="413.30" stroke="#141414" stroke-width="1.1"/>
<line x1="114.00" y1="408.30" x2="114.00" y2="413.30" stroke="#141414" stroke-width="1.1"/>
<line x1="141.20" y1="408.30" x2="141.20" y2="413.30" stroke="#141414" stroke-width="1.1"/>
<line x1="168.40" y1="408.30" x2="168.40" y2="413.30" stroke="#141414" stroke-width="1.1"/>
<line x1="195.60" y1="408.30" x2="195.60" y2="413.30" stroke="#141414" stroke-width="1.1"/>
<line x1="67.20" y1="427.60" x2="67.20" y2="517.75" stroke="#141414" stroke-width="1.5"/>
<line x1="66.45" y1="517.00" x2="201.30" y2="517.00" stroke="#141414" stroke-width="1.5"/>
<line x1="62.70" y1="447.50" x2="67.20" y2="447.50" stroke="#141414" stroke-width="1.1"/>
<line x1="62.70" y1="470.80" x2="67.20" y2="470.80" stroke="#141414" stroke-width="1.1"/>
<line x1="62.70" y1="494.00" x2="67.20" y2="494.00" stroke="#141414" stroke-width="1.1"/>
<line x1="86.80" y1="517.00" x2="86.80" y2="522.00" stroke="#141414" stroke-width="1.1"/>
<line x1="114.00" y1="517.00" x2="114.00" y2="522.00" stroke="#141414" stroke-width="1.1"/>
<line x1="141.20" y1="517.00" x2="141.20" y2="522.00" stroke="#141414" stroke-width="1.1"/>
<line x1="168.40" y1="517.00" x2="168.40" y2="522.00" stroke="#141414" stroke-width="1.1"/>
<line x1="195.60" y1="517.00" x2="195.60" y2="522.00" stroke="#141414" stroke-width="1.1"/>
<line x1="220.90" y1="32.50" x2="220.90" y2="122.75" stroke="#141414" stroke-width="1.5"/>
<line x1="220.15" y1="122.00" x2="356.00" y2="122.00" stroke="#141414" stroke-width="1.5"/>
<line x1="216.40" y1="36.90" x2="220.90" y2="36.90" stroke="#141414" stroke-width="1.1"/>
<line x1="216.40" y1="53.10" x2="220.90" y2="53.10" stroke="#141414" stroke-width="1.1"/>
<line x1="216.40" y1="69.30" x2="220.90" y2="69.30" stroke="#141414" stroke-width="1.1"/>
<line x1="216.40" y1="85.50" x2="220.90" y2="85.50" stroke="#141414" stroke-width="1.1"/>
<line x1="216.40" y1="101.80" x2="220.90" y2="101.80" stroke="#141414" stroke-width="1.1"/>
<line x1="216.40" y1="118.00" x2="220.90" y2="118.00" stroke="#141414" stroke-width="1.1"/>
<line x1="227.20" y1="122.00" x2="227.20" y2="127.00" stroke="#141414" stroke-width="1.1"/>
<line x1="258.20" y1="122.00" x2="258.20" y2="127.00" stroke="#141414" stroke-width="1.1"/>
<line x1="289.00" y1="122.00" x2="289.00" y2="127.00" stroke="#141414" stroke-width="1.1"/>
<line x1="319.90" y1="122.00" x2="319.90" y2="127.00" stroke="#141414" stroke-width="1.1"/>
<line x1="350.80" y1="122.00" x2="350.80" y2="127.00" stroke="#141414" stroke-width="1.1"/>
<line x1="220.90" y1="142.20" x2="220.90" y2="232.05" stroke="#141414" stroke-width="1.5"/>
<line x1="220.15" y1="231.30" x2="356.00" y2="231.30" stroke="#141414" stroke-width="1.5"/>
<line x1="216.40" y1="145.40" x2="220.90" y2="145.40" stroke="#141414" stroke-width="1.1"/>
<line x1="216.40" y1="161.90" x2="220.90" y2="161.90" stroke="#141414" stroke-width="1.1"/>
<line x1="216.40" y1="178.40" x2="220.90" y2="178.40" stroke="#141414" stroke-width="1.1"/>
<line x1="216.40" y1="194.90" x2="220.90" y2="194.90" stroke="#141414" stroke-width="1.1"/>
<line x1="216.40" y1="211.40" x2="220.90" y2="211.40" stroke="#141414" stroke-width="1.1"/>
<line x1="216.40" y1="227.90" x2="220.90" y2="227.90" stroke="#141414" stroke-width="1.1"/>
<line x1="227.20" y1="231.30" x2="227.20" y2="236.30" stroke="#141414" stroke-width="1.1"/>
<line x1="258.20" y1="231.30" x2="258.20" y2="236.30" stroke="#141414" stroke-width="1.1"/>
<line x1="289.00" y1="231.30" x2="289.00" y2="236.30" stroke="#141414" stroke-width="1.1"/>
<line x1="319.90" y1="231.30" x2="319.90" y2="236.30" stroke="#141414" stroke-width="1.1"/>
<line x1="350.80" y1="231.30" x2="350.80" y2="236.30" stroke="#141414" stroke-width="1.1"/>
<line x1="220.90" y1="318.80" x2="220.90" y2="409.05" stroke="#141414" stroke-width="1.5"/>
<line x1="220.15" y1="408.30" x2="355.80" y2="408.30" stroke="#141414" stroke-width="1.5"/>
<line x1="216.40" y1="334.20" x2="220.90" y2="334.20" stroke="#141414" stroke-width="1.1"/>
<line x1="216.40" y1="354.20" x2="220.90" y2="354.20" stroke="#141414" stroke-width="1.1"/>
<line x1="216.40" y1="374.20" x2="220.90" y2="374.20" stroke="#141414" stroke-width="1.1"/>
<line x1="216.40" y1="394.20" x2="220.90" y2="394.20" stroke="#141414" stroke-width="1.1"/>
<line x1="240.40" y1="408.30" x2="240.40" y2="413.30" stroke="#141414" stroke-width="1.1"/>
<line x1="267.50" y1="408.30" x2="267.50" y2="413.30" stroke="#141414" stroke-width="1.1"/>
<line x1="294.70" y1="408.30" x2="294.70" y2="413.30" stroke="#141414" stroke-width="1.1"/>
<line x1="321.90" y1="408.30" x2="321.90" y2="413.30" stroke="#141414" stroke-width="1.1"/>
<line x1="349.00" y1="408.30" x2="349.00" y2="413.30" stroke="#141414" stroke-width="1.1"/>
<line x1="220.90" y1="427.60" x2="220.90" y2="517.75" stroke="#141414" stroke-width="1.5"/>
<line x1="220.15" y1="517.00" x2="355.80" y2="517.00" stroke="#141414" stroke-width="1.5"/>
<line x1="216.40" y1="447.50" x2="220.90" y2="447.50" stroke="#141414" stroke-width="1.1"/>
<line x1="216.40" y1="470.80" x2="220.90" y2="470.80" stroke="#141414" stroke-width="1.1"/>
<line x1="216.40" y1="494.00" x2="220.90" y2="494.00" stroke="#141414" stroke-width="1.1"/>
<line x1="240.40" y1="517.00" x2="240.40" y2="522.00" stroke="#141414" stroke-width="1.1"/>
<line x1="267.50" y1="517.00" x2="267.50" y2="522.00" stroke="#141414" stroke-width="1.1"/>
<line x1="294.70" y1="517.00" x2="294.70" y2="522.00" stroke="#141414" stroke-width="1.1"/>
<line x1="321.90" y1="517.00" x2="321.90" y2="522.00" stroke="#141414" stroke-width="1.1"/>
<line x1="349.00" y1="517.00" x2="349.00" y2="522.00" stroke="#141414" stroke-width="1.1"/>
<line x1="375.00" y1="32.50" x2="375.00" y2="122.75" stroke="#141414" stroke-width="1.5"/>
<line x1="374.25" y1="122.00" x2="510.00" y2="122.00" stroke="#141414" stroke-width="1.5"/>
<line x1="370.50" y1="36.90" x2="375.00" y2="36.90" stroke="#141414" stroke-width="1.1"/>
<line x1="370.50" y1="53.10" x2="375.00" y2="53.10" stroke="#141414" stroke-width="1.1"/>
<line x1="370.50" y1="69.30" x2="375.00" y2="69.30" stroke="#141414" stroke-width="1.1"/>
<line x1="370.50" y1="85.50" x2="375.00" y2="85.50" stroke="#141414" stroke-width="1.1"/>
<line x1="370.50" y1="101.80" x2="375.00" y2="101.80" stroke="#141414" stroke-width="1.1"/>
<line x1="370.50" y1="118.00" x2="375.00" y2="118.00" stroke="#141414" stroke-width="1.1"/>
<line x1="381.50" y1="122.00" x2="381.50" y2="127.00" stroke="#141414" stroke-width="1.1"/>
<line x1="412.50" y1="122.00" x2="412.50" y2="127.00" stroke="#141414" stroke-width="1.1"/>
<line x1="443.40" y1="122.00" x2="443.40" y2="127.00" stroke="#141414" stroke-width="1.1"/>
<line x1="474.20" y1="122.00" x2="474.20" y2="127.00" stroke="#141414" stroke-width="1.1"/>
<line x1="505.00" y1="122.00" x2="505.00" y2="127.00" stroke="#141414" stroke-width="1.1"/>
<line x1="375.00" y1="142.20" x2="375.00" y2="232.05" stroke="#141414" stroke-width="1.5"/>
<line x1="374.25" y1="231.30" x2="510.00" y2="231.30" stroke="#141414" stroke-width="1.5"/>
<line x1="370.50" y1="145.40" x2="375.00" y2="145.40" stroke="#141414" stroke-width="1.1"/>
<line x1="370.50" y1="161.90" x2="375.00" y2="161.90" stroke="#141414" stroke-width="1.1"/>
<line x1="370.50" y1="178.40" x2="375.00" y2="178.40" stroke="#141414" stroke-width="1.1"/>
<line x1="370.50" y1="194.90" x2="375.00" y2="194.90" stroke="#141414" stroke-width="1.1"/>
<line x1="370.50" y1="211.40" x2="375.00" y2="211.40" stroke="#141414" stroke-width="1.1"/>
<line x1="370.50" y1="227.90" x2="375.00" y2="227.90" stroke="#141414" stroke-width="1.1"/>
<line x1="381.50" y1="231.30" x2="381.50" y2="236.30" stroke="#141414" stroke-width="1.1"/>
<line x1="412.50" y1="231.30" x2="412.50" y2="236.30" stroke="#141414" stroke-width="1.1"/>
<line x1="443.40" y1="231.30" x2="443.40" y2="236.30" stroke="#141414" stroke-width="1.1"/>
<line x1="474.20" y1="231.30" x2="474.20" y2="236.30" stroke="#141414" stroke-width="1.1"/>
<line x1="505.00" y1="231.30" x2="505.00" y2="236.30" stroke="#141414" stroke-width="1.1"/>
<line x1="375.00" y1="318.80" x2="375.00" y2="409.05" stroke="#141414" stroke-width="1.5"/>
<line x1="374.25" y1="408.30" x2="509.80" y2="408.30" stroke="#141414" stroke-width="1.5"/>
<line x1="370.50" y1="334.20" x2="375.00" y2="334.20" stroke="#141414" stroke-width="1.1"/>
<line x1="370.50" y1="354.20" x2="375.00" y2="354.20" stroke="#141414" stroke-width="1.1"/>
<line x1="370.50" y1="374.20" x2="375.00" y2="374.20" stroke="#141414" stroke-width="1.1"/>
<line x1="370.50" y1="394.20" x2="375.00" y2="394.20" stroke="#141414" stroke-width="1.1"/>
<line x1="394.50" y1="408.30" x2="394.50" y2="413.30" stroke="#141414" stroke-width="1.1"/>
<line x1="421.60" y1="408.30" x2="421.60" y2="413.30" stroke="#141414" stroke-width="1.1"/>
<line x1="448.80" y1="408.30" x2="448.80" y2="413.30" stroke="#141414" stroke-width="1.1"/>
<line x1="475.90" y1="408.30" x2="475.90" y2="413.30" stroke="#141414" stroke-width="1.1"/>
<line x1="503.00" y1="408.30" x2="503.00" y2="413.30" stroke="#141414" stroke-width="1.1"/>
<line x1="375.00" y1="427.60" x2="375.00" y2="517.75" stroke="#141414" stroke-width="1.5"/>
<line x1="374.25" y1="517.00" x2="509.80" y2="517.00" stroke="#141414" stroke-width="1.5"/>
<line x1="370.50" y1="447.50" x2="375.00" y2="447.50" stroke="#141414" stroke-width="1.1"/>
<line x1="370.50" y1="470.80" x2="375.00" y2="470.80" stroke="#141414" stroke-width="1.1"/>
<line x1="370.50" y1="494.00" x2="375.00" y2="494.00" stroke="#141414" stroke-width="1.1"/>
<line x1="394.50" y1="517.00" x2="394.50" y2="522.00" stroke="#141414" stroke-width="1.1"/>
<line x1="421.60" y1="517.00" x2="421.60" y2="522.00" stroke="#141414" stroke-width="1.1"/>
<line x1="448.80" y1="517.00" x2="448.80" y2="522.00" stroke="#141414" stroke-width="1.1"/>
<line x1="475.90" y1="517.00" x2="475.90" y2="522.00" stroke="#141414" stroke-width="1.1"/>
<line x1="503.00" y1="517.00" x2="503.00" y2="522.00" stroke="#141414" stroke-width="1.1"/>
<text x="58.40" y="40.40" text-anchor="end" fill="#222222" style="font-size:10px;"  stroke="#222222" stroke-width="0.12">50</text>
<text x="58.40" y="56.60" text-anchor="end" fill="#222222" style="font-size:10px;"  stroke="#222222" stroke-width="0.12">40</text>
<text x="58.40" y="72.80" text-anchor="end" fill="#222222" style="font-size:10px;"  stroke="#222222" stroke-width="0.12">30</text>
<text x="58.40" y="89.00" text-anchor="end" fill="#222222" style="font-size:10px;"  stroke="#222222" stroke-width="0.12">20</text>
<text x="58.40" y="105.30" text-anchor="end" fill="#222222" style="font-size:10px;"  stroke="#222222" stroke-width="0.12">10</text>
<text x="58.40" y="121.50" text-anchor="end" fill="#222222" style="font-size:10px;"  stroke="#222222" stroke-width="0.12">0</text>
<text x="58.00" y="149.10" text-anchor="end" fill="#222222" style="font-size:10px;"  stroke="#222222" stroke-width="0.12">150</text>
<text x="58.00" y="176.20" text-anchor="end" fill="#222222" style="font-size:10px;"  stroke="#222222" stroke-width="0.12">100</text>
<text x="58.00" y="203.30" text-anchor="end" fill="#222222" style="font-size:10px;"  stroke="#222222" stroke-width="0.12">50</text>
<text x="58.00" y="230.40" text-anchor="end" fill="#222222" style="font-size:10px;"  stroke="#222222" stroke-width="0.12">0</text>
<text x="58.40" y="337.70" text-anchor="end" fill="#222222" style="font-size:10px;"  stroke="#222222" stroke-width="0.12">200</text>
<text x="58.40" y="357.70" text-anchor="end" fill="#222222" style="font-size:10px;"  stroke="#222222" stroke-width="0.12">150</text>
<text x="58.40" y="377.70" text-anchor="end" fill="#222222" style="font-size:10px;"  stroke="#222222" stroke-width="0.12">100</text>
<text x="58.40" y="397.70" text-anchor="end" fill="#222222" style="font-size:10px;"  stroke="#222222" stroke-width="0.12">50</text>
<text x="58.70" y="451.00" text-anchor="end" fill="#222222" style="font-size:10px;"  stroke="#222222" stroke-width="0.12">150</text>
<text x="58.70" y="474.30" text-anchor="end" fill="#222222" style="font-size:10px;"  stroke="#222222" stroke-width="0.12">100</text>
<text x="58.70" y="497.50" text-anchor="end" fill="#222222" style="font-size:10px;"  stroke="#222222" stroke-width="0.12">50</text>
<text x="73.50" y="249.20" text-anchor="middle" fill="#222222" style="font-size:10px;"  stroke="#222222" stroke-width="0.12">0.0</text>
<text x="104.50" y="249.20" text-anchor="middle" fill="#222222" style="font-size:10px;"  stroke="#222222" stroke-width="0.12">0.1</text>
<text x="135.50" y="249.20" text-anchor="middle" fill="#222222" style="font-size:10px;"  stroke="#222222" stroke-width="0.12">0.2</text>
<text x="166.50" y="249.20" text-anchor="middle" fill="#222222" style="font-size:10px;"  stroke="#222222" stroke-width="0.12">0.3</text>
<text x="197.50" y="249.20" text-anchor="middle" fill="#222222" style="font-size:10px;"  stroke="#222222" stroke-width="0.12">0.4</text>
<text x="86.80" y="534.70" text-anchor="middle" fill="#222222" style="font-size:10px;"  stroke="#222222" stroke-width="0.12">0.4</text>
<text x="114.00" y="534.70" text-anchor="middle" fill="#222222" style="font-size:10px;"  stroke="#222222" stroke-width="0.12">0.5</text>
<text x="141.20" y="534.70" text-anchor="middle" fill="#222222" style="font-size:10px;"  stroke="#222222" stroke-width="0.12">0.6</text>
<text x="168.40" y="534.70" text-anchor="middle" fill="#222222" style="font-size:10px;"  stroke="#222222" stroke-width="0.12">0.7</text>
<text x="195.60" y="534.70" text-anchor="middle" fill="#222222" style="font-size:10px;"  stroke="#222222" stroke-width="0.12">0.8</text>
<text x="93.7" y="267.7" fill="#222222" stroke="#222" stroke-width="0.2" style="font-size:14px" textLength="83.2" lengthAdjust="spacingAndGlyphs">Pseudotime (<tspan fill="#c9b85a" stroke="#c9b85a">HSC</tspan>)</text>
<text x="93.2" y="553.5" fill="#222222" stroke="#222" stroke-width="0.2" style="font-size:14px" textLength="83.6" lengthAdjust="spacingAndGlyphs">Pseudotime (<tspan fill="#5548a0" stroke="#5548a0">MyP</tspan>)</text>
<text transform="translate(39.20,77.00) rotate(-90)" x="0" y="0" text-anchor="middle" fill="#222222" stroke="#222" stroke-width="0.25" style="font-size:12.5px" textLength="58.0" lengthAdjust="spacingAndGlyphs"><tspan style="font-style:italic">Cebpa</tspan> (CPM)</text>
<text transform="translate(36.80,186.30) rotate(-90)" x="0" y="0" text-anchor="middle" fill="#222222" stroke="#222" stroke-width="0.25" style="font-size:12px" textLength="52.0" lengthAdjust="spacingAndGlyphs"><tspan style="font-style:italic">Ikzf1</tspan> (CPM)</text>
<text transform="translate(33.40,363.70) rotate(-90)" x="0" y="0" text-anchor="middle" fill="#222222" stroke="#222" stroke-width="0.25" style="font-size:12px" textLength="48.6" lengthAdjust="spacingAndGlyphs"><tspan style="font-style:italic">Myc</tspan> (CPM)</text>
<text transform="translate(34.20,471.80) rotate(-90)" x="0" y="0" text-anchor="middle" fill="#222222" stroke="#222" stroke-width="0.25" style="font-size:12px" textLength="60.0" lengthAdjust="spacingAndGlyphs"><tspan style="font-style:italic">Ccnb2</tspan> (CPM)</text>
<text x="71.80" y="43.60" text-anchor="start" fill="#222222" style="font-size:11.2px;" textLength="98.20" lengthAdjust="spacingAndGlyphs" stroke="#222" stroke-width="0.12">Native Replicate 1</text>
<text x="225.50" y="43.60" text-anchor="start" fill="#222222" style="font-size:11.2px;" textLength="99.50" lengthAdjust="spacingAndGlyphs" stroke="#222" stroke-width="0.12">Native Replicate 2</text>
<text x="382.40" y="43.80" text-anchor="start" fill="#222222" style="font-size:11.2px;" textLength="56.60" lengthAdjust="spacingAndGlyphs" stroke="#222" stroke-width="0.12">Transplant</text>
<text x="71.00" y="330.80" text-anchor="start" fill="#111" style="font-size:12px;" textLength="96.80" lengthAdjust="spacingAndGlyphs" stroke="#111" stroke-width="0.2">Native Replicate 1</text>
<text x="227.20" y="330.20" text-anchor="start" fill="#111" style="font-size:12px;" textLength="99.80" lengthAdjust="spacingAndGlyphs" stroke="#111" stroke-width="0.2">Native Replicate 2</text>
<text x="379.00" y="330.20" text-anchor="start" fill="#111" style="font-size:12px;" textLength="57.00" lengthAdjust="spacingAndGlyphs" stroke="#111" stroke-width="0.2">Transplant</text>
<text x="75.20" y="60.90" text-anchor="start" fill="#bb5c9c" style="font-size:10.5px;" textLength="14.40" lengthAdjust="spacingAndGlyphs" stroke="none">WT</text>
<text x="75.20" y="75.60" fill="#1f8658" stroke="#1f8658" stroke-width="0" style="font-size:10.5px" textLength="16.00" lengthAdjust="spacingAndGlyphs">I&#954;B<tspan dy="-4.20" style="font-size:5.2px">&#8211;</tspan><tspan dy="4.20"></tspan></text>
<text x="228.80" y="61.20" text-anchor="start" fill="#bb5c9c" style="font-size:10.5px;" textLength="14.40" lengthAdjust="spacingAndGlyphs" stroke="none">WT</text>
<text x="228.80" y="75.50" fill="#1f8658" stroke="#1f8658" stroke-width="0" style="font-size:10.5px" textLength="16.00" lengthAdjust="spacingAndGlyphs">I&#954;B<tspan dy="-4.20" style="font-size:5.2px">&#8211;</tspan><tspan dy="4.20"></tspan></text>
<text x="381.50" y="61.50" text-anchor="start" fill="#bb5c9c" style="font-size:10.5px;" textLength="56.20" lengthAdjust="spacingAndGlyphs" stroke="none">WT recipient</text>
<text x="382.00" y="75.80" fill="#1f8658" stroke="#1f8658" stroke-width="0" style="font-size:10.5px" textLength="58.00" lengthAdjust="spacingAndGlyphs">I&#954;B<tspan dy="-4.20" style="font-size:5.2px">&#8211;</tspan><tspan dy="4.20"> recipient</tspan></text>
<text x="74.20" y="444.60" text-anchor="start" fill="#bb5c9c" style="font-size:12px;" textLength="18.80" lengthAdjust="spacingAndGlyphs" stroke="none">WT</text>
<text x="74.40" y="459.40" fill="#1f8658" stroke="#1f8658" stroke-width="0" style="font-size:12px" textLength="21.60" lengthAdjust="spacingAndGlyphs">I&#954;B<tspan dy="-4.80" style="font-size:7.2px">&#8211;</tspan><tspan dy="4.80"></tspan></text>
<text x="225.00" y="442.70" text-anchor="start" fill="#bb5c9c" style="font-size:12px;" textLength="18.50" lengthAdjust="spacingAndGlyphs" stroke="none">WT</text>
<text x="225.00" y="458.00" fill="#1f8658" stroke="#1f8658" stroke-width="0" style="font-size:12px" textLength="21.50" lengthAdjust="spacingAndGlyphs">I&#954;B<tspan dy="-4.80" style="font-size:7.2px">&#8211;</tspan><tspan dy="4.80"></tspan></text>
<text x="379.00" y="445.20" text-anchor="start" fill="#bb5c9c" style="font-size:12px;" textLength="68.70" lengthAdjust="spacingAndGlyphs" stroke="none">WT recipient</text>
<text x="379.00" y="459.60" fill="#1f8658" stroke="#1f8658" stroke-width="0" style="font-size:12px" textLength="72.70" lengthAdjust="spacingAndGlyphs">I&#954;B<tspan dy="-4.80" style="font-size:7.2px">&#8211;</tspan><tspan dy="4.80"> recipient</tspan></text>
<text x="354.20" y="108.75" text-anchor="end" fill="#222222" stroke="#222" stroke-width="0" style="font-size:9.8px;font-style:italic" textLength="47.00" lengthAdjust="spacingAndGlyphs">*1.32&#215;10<tspan dy="-4" style="font-size:6.7px">&#8211;2</tspan></text>
<text x="352.20" y="116.90" text-anchor="end" fill="#222222" style="font-size:9.8px;font-style:italic;" textLength="22.00" lengthAdjust="spacingAndGlyphs"  stroke="#222222" stroke-width="0.12">k = 4</text>
<text x="511.00" y="104.75" text-anchor="end" fill="#222222" stroke="#222" stroke-width="0" style="font-size:9.8px;font-style:italic" textLength="47.50" lengthAdjust="spacingAndGlyphs">*1.01&#215;10<tspan dy="-4" style="font-size:6.7px">&#8211;3</tspan></text>
<text x="511.00" y="116.90" text-anchor="end" fill="#222222" style="font-size:9.8px;font-style:italic;" textLength="23.00" lengthAdjust="spacingAndGlyphs"  stroke="#222222" stroke-width="0.12">k = 3</text>
<text x="347.80" y="216.20" text-anchor="end" fill="#222222" stroke="#222" stroke-width="0" style="font-size:9.8px;font-style:italic" textLength="52.20" lengthAdjust="spacingAndGlyphs">*&lt;2.2&#215;10<tspan dy="-4" style="font-size:6.7px">&#8211;16</tspan></text>
<text x="347.80" y="226.00" text-anchor="end" fill="#222222" style="font-size:9.8px;font-style:italic;" textLength="22.50" lengthAdjust="spacingAndGlyphs"  stroke="#222222" stroke-width="0.12">k = 4</text>
<text x="508.20" y="216.20" text-anchor="end" fill="#222222" stroke="#222" stroke-width="0" style="font-size:9.8px;font-style:italic" textLength="43.80" lengthAdjust="spacingAndGlyphs">2.48&#215;10<tspan dy="-4" style="font-size:6.7px">&#8211;1</tspan></text>
<text x="508.20" y="225.40" text-anchor="end" fill="#222222" style="font-size:9.8px;font-style:italic;" textLength="22.00" lengthAdjust="spacingAndGlyphs"  stroke="#222222" stroke-width="0.12">k = 3</text>
<text x="227.00" y="392.70" fill="#222222" stroke="#222" stroke-width="0" style="font-size:9px;font-style:italic" textLength="36.80" lengthAdjust="spacingAndGlyphs">1.05x10<tspan dy="-4" style="font-size:6.1px">-1</tspan></text>
<text x="227.00" y="403.50" text-anchor="start" fill="#222222" style="font-size:9px;font-style:italic;"  stroke="#222222" stroke-width="0.12">k=3</text>
<text x="381.60" y="392.70" fill="#222222" stroke="#222" stroke-width="0" style="font-size:9px;font-style:italic" textLength="41.60" lengthAdjust="spacingAndGlyphs">*4.96x10<tspan dy="-4" style="font-size:6.1px">-2</tspan></text>
<text x="381.80" y="403.50" text-anchor="start" fill="#222222" style="font-size:9px;font-style:italic;"  stroke="#222222" stroke-width="0.12">k=3</text>
<text x="350.00" y="434.00" text-anchor="end" fill="#222222" stroke="#222" stroke-width="0" style="font-size:10.3px;font-style:italic" textLength="50.00" lengthAdjust="spacingAndGlyphs">*1.81&#215;10<tspan dy="-4" style="font-size:7.0px">&#8211;4</tspan></text>
<text x="348.60" y="445.80" text-anchor="end" fill="#222222" style="font-size:10.3px;font-style:italic;" textLength="17.60" lengthAdjust="spacingAndGlyphs"  stroke="#222222" stroke-width="0.12">k=3</text>
<text x="507.50" y="435.00" text-anchor="end" fill="#222222" stroke="#222" stroke-width="0" style="font-size:10.3px;font-style:italic" textLength="47.80" lengthAdjust="spacingAndGlyphs">*3.50&#215;10<tspan dy="-4" style="font-size:7.0px">&#8211;3</tspan></text>
<text x="506.60" y="445.80" text-anchor="end" fill="#222222" style="font-size:10.3px;font-style:italic;" textLength="17.60" lengthAdjust="spacingAndGlyphs"  stroke="#222222" stroke-width="0.12">k=3</text>
<rect x="0.5" y="0.5" width="519" height="565" fill="none" stroke="#1a1a1a" stroke-width="1.2"/>
</svg>
</body></html>
